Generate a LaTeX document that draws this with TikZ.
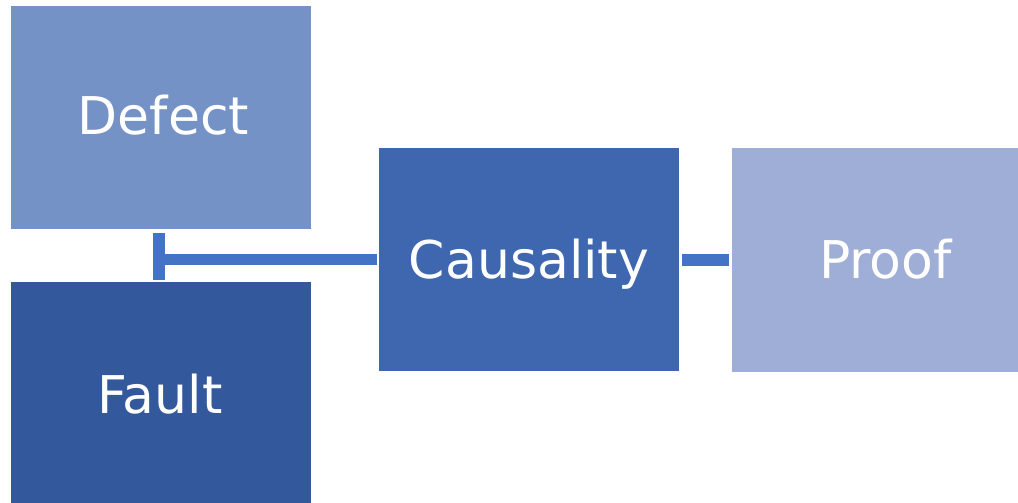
\documentclass[tikz,border=0pt]{standalone}
\usepackage{fontspec}
\setmainfont{DejaVu Sans}
\definecolor{cDefect}{HTML}{7592C7}
\definecolor{cFault}{HTML}{34589C}
\definecolor{cCaus}{HTML}{3E67B0}
\definecolor{cProof}{HTML}{9FAED7}
\definecolor{cLine}{HTML}{4472C4}
\begin{document}
\begin{tikzpicture}[x=1pt,y=-1pt,
  box/.style={draw=none,inner sep=0pt,outer sep=0pt},
  lbl/.style={anchor=base,text=white,font=\fontsize{52}{60}\selectfont,inner sep=0pt},
  conn/.style={draw=cLine,line width=11.5pt,line cap=butt}]
\useasboundingbox (0,0) rectangle (1018,503);
\node[box,fill=cDefect,minimum width=300pt,minimum height=223pt,anchor=north west] (defect) at (11,6) {};
\node[box,fill=cFault,minimum width=300pt,minimum height=221pt,anchor=north west] (fault) at (11,282) {};
\node[box,fill=cCaus,minimum width=300pt,minimum height=223pt,anchor=north west] (caus) at (379,148) {};
\node[box,fill=cProof,minimum width=286pt,minimum height=224pt,anchor=north west] (proof) at (732,148) {};
\node[lbl] (tdefect) at (163.5,135) {Defect};
\node[lbl] (tfault) at (160,413) {Fault};
\node[lbl] (tcaus) at (529,278) {Causality};
\node[lbl] (tproof) at (885.5,278) {Proof};
\coordinate (barend) at (159,259.5);
\coordinate (bartop) at (159,233);
\coordinate (barbot) at (159,280);
\draw[conn] ([xshift=-2pt]caus.west |- barend) -- (barend);
\draw[draw=cLine,line width=12pt] (bartop) -- (barbot);
\draw[conn] ([xshift=3pt]caus.east |- 0,260) -- ([xshift=-3pt]proof.west |- 0,260);
\end{tikzpicture}
\end{document}
